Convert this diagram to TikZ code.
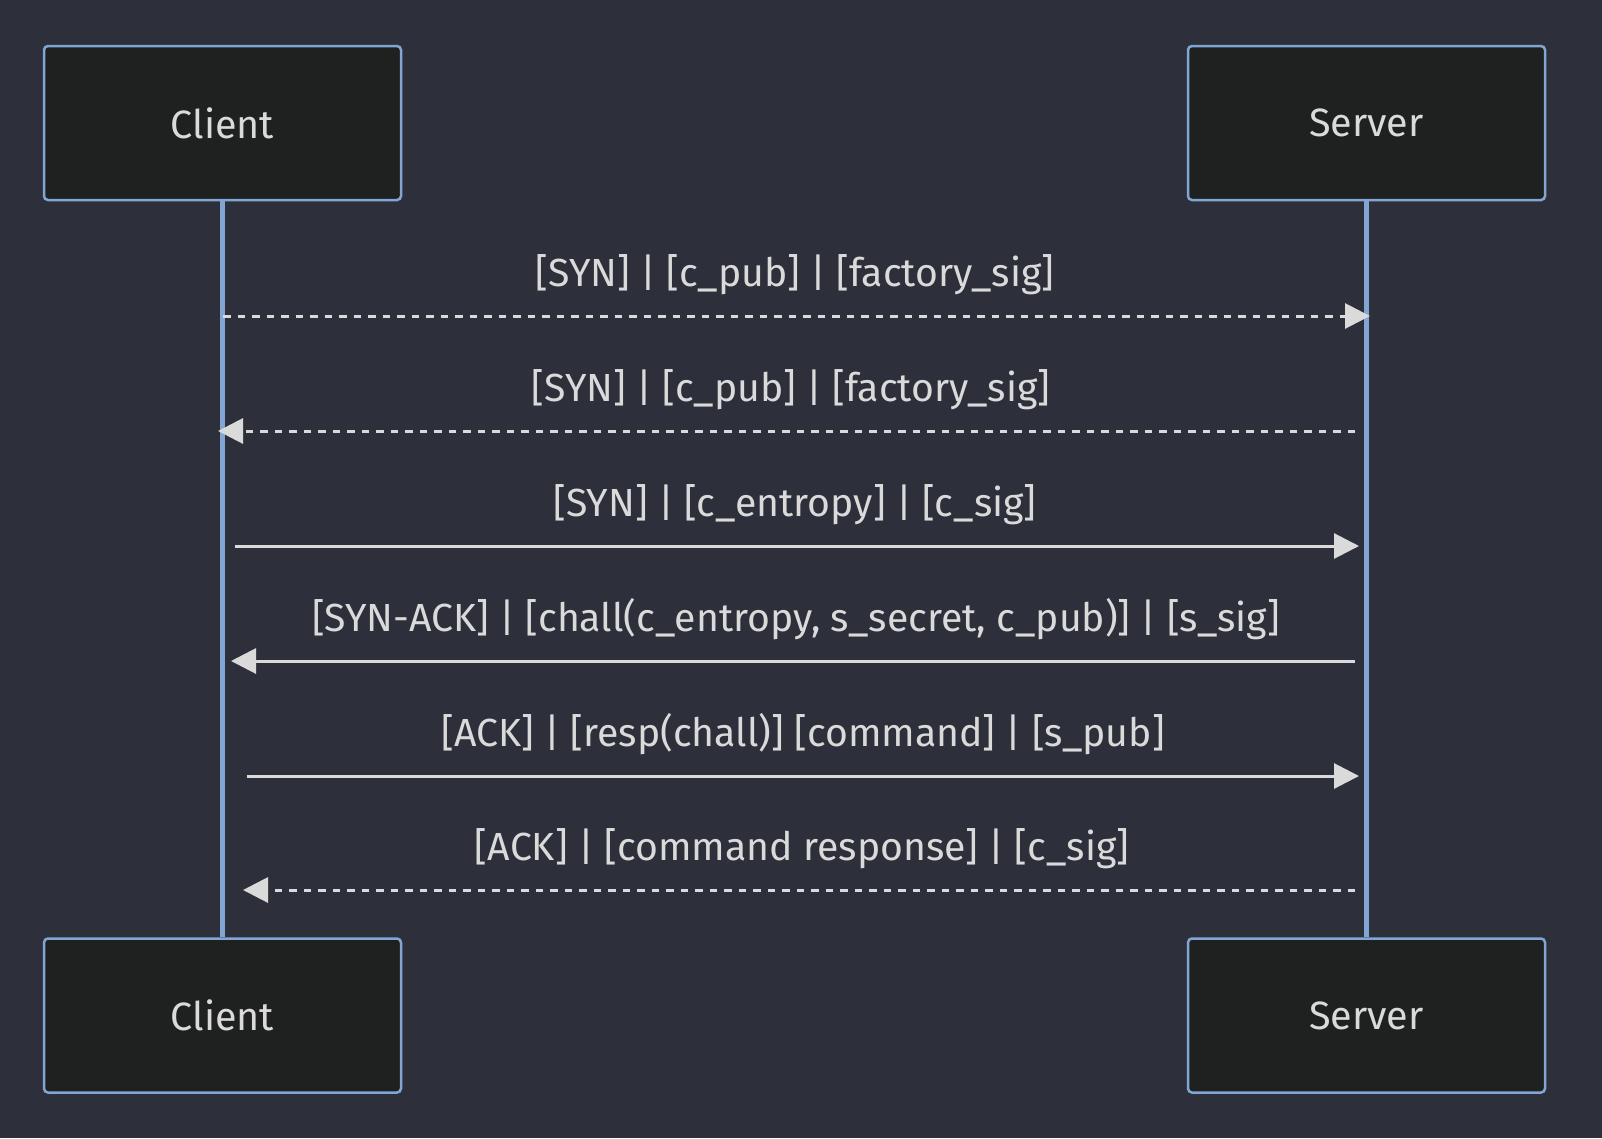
\documentclass[tikz,border=0pt]{standalone}
\usepackage{fontspec}
\setmainfont{Fira Sans}
\usetikzlibrary{arrows.meta}
\definecolor{bg}{HTML}{2D303A}
\definecolor{boxfill}{HTML}{1F2020}
\definecolor{edge}{HTML}{81A6D4}
\definecolor{ink}{HTML}{DADADA}
\begin{document}
\begin{tikzpicture}[x=1pt,y=-1pt,
  actor/.style={draw=edge, fill=boxfill, line width=2.5pt, rounded corners=4pt,
    minimum width=357pt, minimum height=154pt, inner sep=0pt,
    font=\fontsize{39.5}{48}\selectfont, text=ink},
  life/.style={draw=edge, line width=4.5pt},
  msg/.style={draw=ink, line width=3pt, -{Triangle[length=25pt,width=25pt]}},
  reply/.style={msg, dash pattern=on 7.5pt off 7pt},
  lbl/.style={anchor=base, text=ink, inner sep=0pt, font=\fontsize{39.2}{48}\selectfont}]
\fill[bg] (0,0) rectangle (1602,1138);
\useasboundingbox (0,0) rectangle (1602,1138);

% participants
\node[actor] (cTop) at (222.5,123) {Client};
\node[actor] (sTop) at (1366.5,123) {Server};
\node[actor] (cBot) at (222.5,1015.5) {Client};
\node[actor] (sBot) at (1366.5,1015.5) {Server};

% lifelines
\draw[life] (cTop.south) -- (cBot.north);
\draw[life] (sTop.south) -- (sBot.north);

% message end points
\coordinate (a1) at (223,316);  \coordinate (b1) at (1370,316);
\coordinate (a2) at (1355,431); \coordinate (b2) at (218,431);
\coordinate (a3) at (235,546);  \coordinate (b3) at (1359,546);
\coordinate (a4) at (1355,661); \coordinate (b4) at (231,661);
\coordinate (a5) at (247,776);  \coordinate (b5) at (1359,776);
\coordinate (a6) at (1355,890); \coordinate (b6) at (243,890);

% messages
\draw[reply] (a1) -- (b1);
\draw[reply] (a2) -- (b2);
\draw[msg]   (a3) -- (b3);
\draw[msg]   (a4) -- (b4);
\draw[msg]   (a5) -- (b5);
\draw[reply] (a6) -- (b6);

% message labels
\node[lbl] (l1) at (795,286) {[SYN] | [c\_pub] | [factory\_sig]};
\node[lbl] (l2) at (791,401) {[SYN] | [c\_pub] | [factory\_sig]};
\node[lbl] (l3) at (795,516) {[SYN] | [c\_entropy] | [c\_sig]};
\node[lbl] (l4) at (796,631) {[SYN-ACK] | [chall(c\_entropy, s\_secret, c\_pub)] | [s\_sig]};
\node[lbl] (l5) at (803,746) {[ACK] | [resp(chall)] [command] | [s\_pub]};
\node[lbl] (l6) at (802,860) {[ACK] | [command response] | [c\_sig]};
\end{tikzpicture}
\end{document}
